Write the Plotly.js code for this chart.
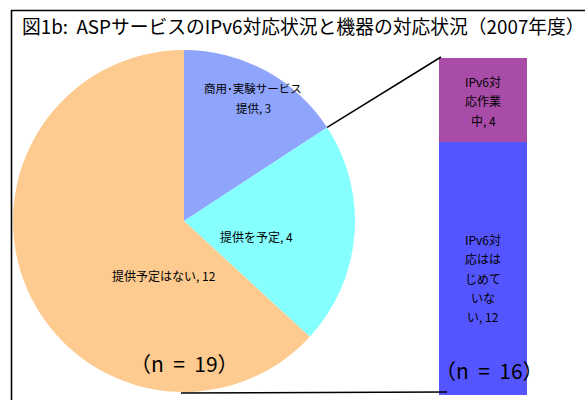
<!DOCTYPE html>
<html>
<head>
<meta charset="utf-8">
<script src="https://cdn.plot.ly/plotly-3.0.1.min.js"></script>
<style>
html,body{margin:0;padding:0;background:#fff;}
#chart{width:585px;height:400px;}
</style>
</head>
<body>
<div id="chart"></div>
<script>
// ---- data ----
const titleText = '図1b:\u00a0\u00a0ASPサービスのIPv6対応状況と機器の対応状況（2007年度）';
const pieLabels = ['商用･実験サービス\n提供', '提供を予定', '提供予定はない'];
const pieValues = [3, 4, 12];
const pieColors = ['#8fa4fb', '#86ffff', '#fdca90'];
const barLabels = ['IPv6対\n応はは\nじめて\nいな\nい', 'IPv6対\n応作業\n中'];
const barValues = [12, 4];
const barColors = ['#5555ff', '#a84ca8'];

// ---- layout geometry (pixels) ----
const W = 585, H = 400;
const px = x => x / W;
const py = y => 1 - y / H;
const cx = 184, cy = 221, R = 171;
const barLeft = 439, barRight = 527, barTop = 58, barBottom = 395;
const FONT = '"Noto Sans CJK JP", "Noto Sans", sans-serif';

const pieTotal = pieValues.reduce((a, b) => a + b, 0);
const barTotal = barValues.reduce((a, b) => a + b, 0);

const traces = [];
traces.push({
  type: 'pie',
  values: pieValues,
  labels: pieLabels,
  sort: false,
  direction: 'clockwise',
  rotation: 0,
  marker: {colors: pieColors, line: {width: 0}},
  textinfo: 'none',
  hoverinfo: 'label+value',
  showlegend: false,
  domain: {x: [px(cx - R), px(cx + R)], y: [py(cy + R), py(cy - R)]}
});
barValues.forEach((v, i) => {
  traces.push({
    type: 'bar',
    x: ['b'],
    y: [v],
    width: [1],
    xaxis: 'x2',
    yaxis: 'y2',
    marker: {color: barColors[i], line: {width: 0}},
    name: barLabels[i].replace(/\n/g, ''),
    showlegend: false,
    hoverinfo: 'name+y'
  });
});

const annotations = [];
function addLines(text, xPix, yPix, size, spacing) {
  const lines = text.split('\n');
  lines.forEach((ln, i) => {
    const y = yPix + (i - (lines.length - 1) / 2) * spacing;
    annotations.push({
      xref: 'paper', yref: 'paper', x: px(xPix), y: py(y),
      xanchor: 'center', yanchor: 'middle', showarrow: false,
      text: ln, font: {family: FONT, size: size, color: '#000'}
    });
  });
}
// pie labels
addLines(pieLabels[0] + ', ' + pieValues[0], 253, 98, 11.5, 20);
addLines(pieLabels[1] + ', ' + pieValues[1], 256, 236, 12, 19);
addLines(pieLabels[2] + ', ' + pieValues[2], 164, 275, 12, 19);
// bar labels
addLines(barLabels[1] + ', ' + barValues[1], 483, 101, 12, 19);
addLines(barLabels[0] + ', ' + barValues[0], 483, 278, 12, 19.3);
// n labels
addLines('（n\u00a0\u00a0=\u00a0\u00a0' + pieTotal + '）', 184, 363, 21, 20);
addLines('（n\u00a0\u00a0=\u00a0\u00a0' + barTotal + '）', 489, 370, 21, 20);

// connector lines
const a0 = 2 * Math.PI * pieValues[0] / pieTotal;
const sx = cx + R * Math.sin(a0), sy = cy - R * Math.cos(a0);
const shapes = [
  {type: 'rect', xref: 'paper', yref: 'paper', x0: px(11.5), y0: py(10.5), x1: px(620), y1: py(440),
   line: {color: '#000', width: 1.6}, fillcolor: 'rgba(0,0,0,0)', layer: 'below'},
  {type: 'line', xref: 'paper', yref: 'paper', x0: px(sx), y0: py(sy), x1: px(barLeft + 2), y1: py(barTop - 1),
   line: {color: '#000', width: 1.5}},
  {type: 'line', xref: 'paper', yref: 'paper', x0: px(cx - 3), y0: py(cy + R + 1), x1: px(barLeft + 8), y1: py(cy + R),
   line: {color: '#000', width: 1.5}}
];

const layout = {
  width: W, height: H,
  margin: {l: 0, r: 0, t: 0, b: 0},
  paper_bgcolor: '#fff', plot_bgcolor: 'rgba(0,0,0,0)',
  barmode: 'stack',
  showlegend: false,
  title: {text: titleText, x: px(22), xanchor: 'left', xref: 'paper', y: py(27), yanchor: 'middle', yref: 'paper',
          font: {family: FONT, size: 18.8, color: '#000'}},
  xaxis2: {domain: [px(barLeft), px(barRight)], range: [-0.5, 0.5], visible: false, fixedrange: true, anchor: 'y2'},
  yaxis2: {domain: [py(barBottom), py(barTop)], range: [0, barTotal], visible: false, fixedrange: true, anchor: 'x2'},
  annotations: annotations,
  shapes: shapes
};

Plotly.newPlot('chart', traces, layout, {displayModeBar: false, staticPlot: true});
</script>
</body>
</html>
